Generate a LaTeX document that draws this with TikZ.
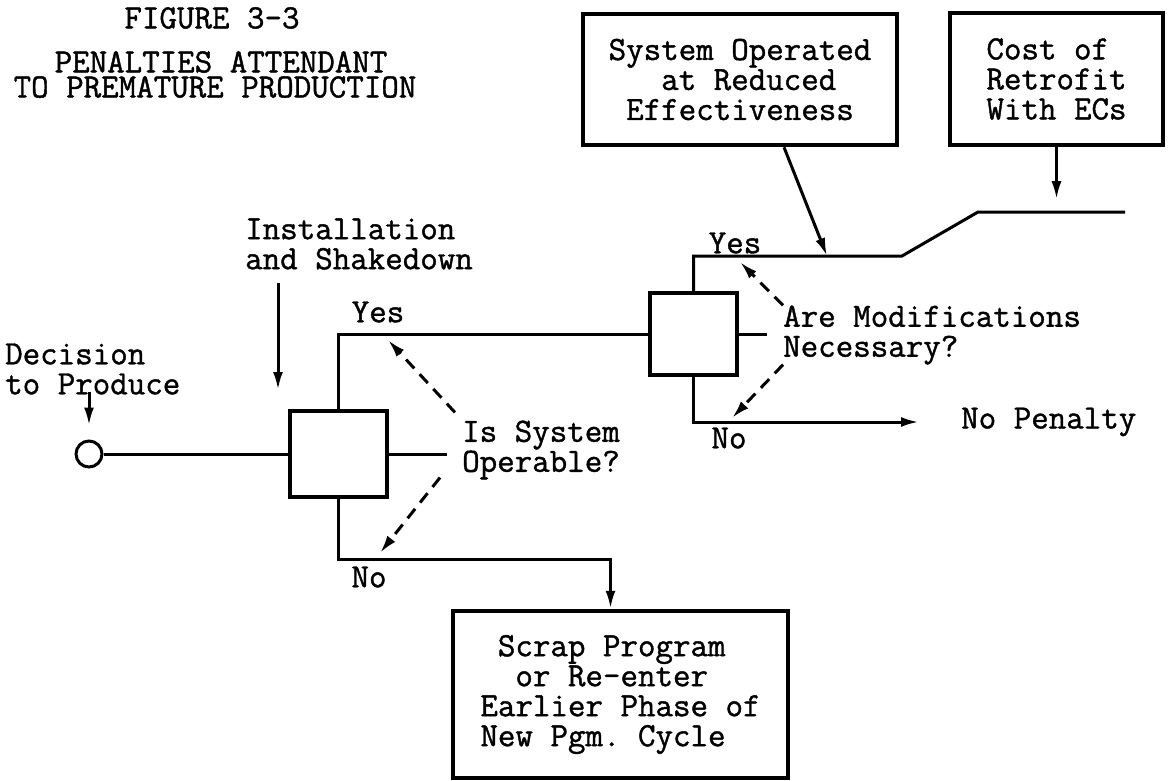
\documentclass[tikz,border=0pt]{standalone}
\usepackage{fontspec}
\setmonofont{Latin Modern Mono}[FakeBold=1.2]
\usetikzlibrary{arrows.meta,calc}

\tikzset{
  every node/.style={font=\ttfamily\fontsize{34}{30}\selectfont,inner sep=0pt},
  box/.style={draw,rectangle,line width=4.5pt},
  link/.style={line width=3pt},
  arr/.style={-{Latex[length=18pt,width=10pt]}},
  dasharr/.style={line width=3pt,dash pattern=on 12pt off 8pt,-{Latex[length=18pt,width=10pt]}},
}

\begin{document}
\begin{tikzpicture}[x=1pt,y=-1pt,line join=miter]

\useasboundingbox (0,0) rectangle (1168,781);

% Title
\node (fig) at (212,18) {FIGURE 3-3};
\node (title1) at (221,62) {PENALTIES ATTENDANT};
\node (title2) at (215,87) {TO PREMATURE PRODUCTION};

% Boxes
\node[box,minimum width=314pt,minimum height=131pt,align=left] (reduced) at (740,79.5)
    {System Operated\\\hphantom{xxx}at Reduced\\\hphantom{x}Effectiveness};
\node[box,minimum width=213pt,minimum height=132pt,align=left] (retrofit) at (1056.5,79)
    {Cost of\\Retrofit\\With ECs};
\node[box,minimum width=335pt,minimum height=167pt,align=left] (scrap) at (620.5,694.5)
    {\hphantom{x}Scrap Program\\\hphantom{xx}or Re-enter\\Earlier Phase of\\New Pgm. Cycle};

% Decision points
\node[draw,circle,line width=3pt,minimum size=26pt] (start) at (89,454) {};
\node[box,minimum width=97pt,minimum height=86pt] (check1) at (338.5,454) {};
\node[box,minimum width=87pt,minimum height=82pt] (check2) at (693.5,334) {};

% Labels
\node[align=left,anchor=west] (decide) at (5,369) {Decision\\to Produce};
\node[align=left,anchor=west] (install) at (245,244) {Installation\\and Shakedown};
\node[align=left,anchor=west] (operable) at (462,450) {Is System\\Operable?};
\node[align=left,anchor=west] (modify) at (783,335) {Are Modifications\\Necessary?};
\node[anchor=west] (nopenalty) at (961,422) {No Penalty};
\node (yes1) at (378,312) {Yes};
\node (no1) at (369,577) {No};
\node (yes2) at (735,243) {Yes};
\node (no2) at (729,438) {No};

% Free ends and bends
\coordinate (stub1) at (447,454);
\coordinate (stub2) at (767,334);
\coordinate (kneeA) at (902,256);
\coordinate (kneeB) at (978,212);
\coordinate (pathend) at (1125,212);
\coordinate (instop) at (278,283);
\coordinate (insbot) at (278,390);
\coordinate (hit1) at (827,256);
\coordinate (yes1tip) at (388,340);
\coordinate (no1tip) at (380,553);
\coordinate (yes2tip) at (740,262);
\coordinate (no2tip) at (732,418);

% Main flow
\draw[link] (start) -- (check1);
\draw[link] (check1.east) -- (stub1);
\draw[link] (check1.north) |- (check2.west);
\draw[link] (check2.east) -- (stub2);
\draw[link] (check2.north) |- (kneeA) -- (kneeB) -- (pathend);
\draw[link,arr,shorten >=42pt] (check2.south) |- (nopenalty.west);
\draw[link,arr] (check1.south) -- ++(0,60) -| ([xshift=-10pt]scrap.north);

% Inputs
\draw[link,arr] (start.north) ++(0,-48) -- ([yshift=14pt]start.north);
\draw[link,arr] (instop) -- (insbot);
\draw[link,arr] ([xshift=44pt]reduced.south) -- (hit1);
\draw[link,arr] (retrofit.south) -- ++(0,52);

% Questions
\draw[dasharr] ($(operable.north west)+(-7,-8)$) -- (yes1tip);
\draw[dasharr] ($(operable.south west)+(-22,-2)$) -- (no1tip);
\draw[dasharr] (modify.north west) -- (yes2tip);
\draw[dasharr] (modify.south west) -- (no2tip);

\end{tikzpicture}
\end{document}
